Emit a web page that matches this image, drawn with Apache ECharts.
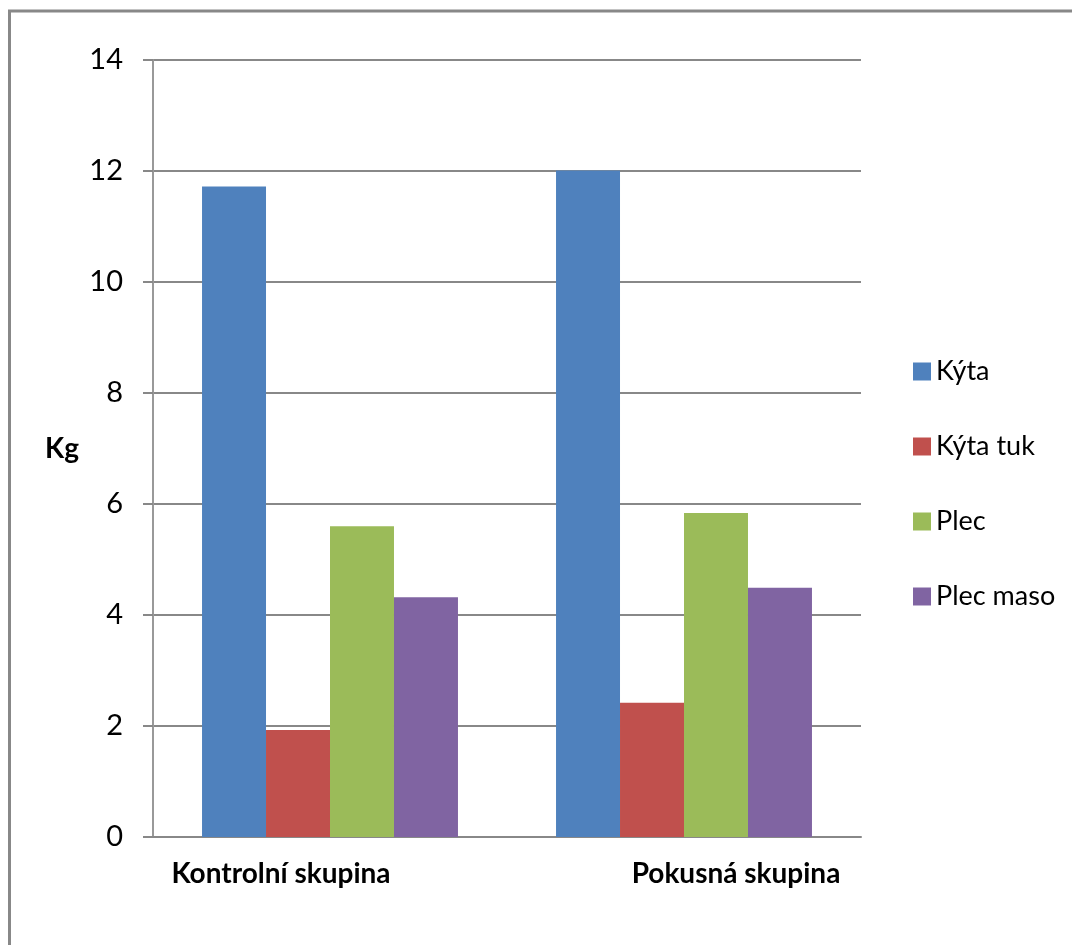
<!DOCTYPE html>
<html>
<head>
<meta charset="utf-8">
<script src="https://cdn.jsdelivr.net/npm/echarts@6/dist/echarts.min.js"></script>
<style>
  html, body { margin: 0; padding: 0; background: #fff; }
  #chart { width: 1072px; height: 945px; }
</style>
</head>
<body>
<div id="chart"></div>
<script>
// Carcass part weights (kg) for the two pig groups
const categories = ['Kontrolní skupina', 'Pokusná skupina'];
const seriesNames = ['Kýta', 'Kýta tuk', 'Plec', 'Plec maso'];
const kyta = [11.72, 12.01];
const kytaTuk = [1.93, 2.42];
const plec = [5.60, 5.84];
const plecMaso = [4.32, 4.49];
const yTicks = [0, 2, 4, 6, 8, 10, 12, 14];

const colors = ['#4F81BD', '#C0504D', '#9BBB59', '#8064A2'];
const FONT = 'Lato, "Liberation Sans Narrow", sans-serif';
const values = [kyta, kytaTuk, plec, plecMaso];

const chart = echarts.init(document.getElementById('chart'), null, { renderer: 'canvas' });

// category labels sit off-centre under their groups
const labelPadding = [[0, 98, 0, 0], [0, 0, 0, 104]];

chart.setOption({
  animation: false,
  backgroundColor: '#fff',
  color: colors,
  grid: { left: 153, right: 211, top: 60, bottom: 108, containLabel: false },
  legend: {
    orient: 'vertical',
    left: 908,
    top: 353,
    itemWidth: 18,
    itemHeight: 18,
    itemGap: 48,
    icon: 'rect',
    data: seriesNames,
    textStyle: { fontFamily: FONT, fontSize: 27, color: '#000' }
  },
  xAxis: {
    type: 'category',
    data: categories.map((c, i) => ({ value: c, textStyle: { padding: labelPadding[i] } })),
    axisLine: { show: true, lineStyle: { color: '#888', width: 2 } },
    axisTick: { show: false },
    axisLabel: {
      interval: 0,
      hideOverlap: false,
      fontFamily: FONT, fontSize: 28, fontWeight: 'bold', color: '#000', margin: 23
    }
  },
  yAxis: {
    type: 'value',
    min: yTicks[0],
    max: yTicks[yTicks.length - 1],
    interval: 2,
    name: 'Kg',
    nameLocation: 'middle',
    nameRotate: 0,
    nameGap: 74,
    nameTextStyle: { fontFamily: FONT, fontSize: 28, fontWeight: 'bold', color: '#000', padding: [16, 0, 0, 0] },
    axisLine: { show: true, lineStyle: { color: '#999', width: 2 } },
    axisTick: { show: true, length: 10, lineStyle: { color: '#888', width: 2 } },
    splitLine: { show: true, lineStyle: { color: '#888', width: 2 } },
    axisLabel: { fontFamily: FONT, fontSize: 29, color: '#000', margin: 30 }
  },
  series: seriesNames.map((name, i) => ({
    name: name,
    type: 'bar',
    data: values[i],
    barGap: '0%',
    barCategoryGap: '27.7%',
    itemStyle: { color: colors[i] }
  })),
  graphic: [{
    type: 'polyline',
    shape: { points: [[9.5, 945], [9.5, 11], [1072, 11]] },
    style: { stroke: '#888', lineWidth: 3, fill: null },
    silent: true
  }]
});
</script>
</body>
</html>
